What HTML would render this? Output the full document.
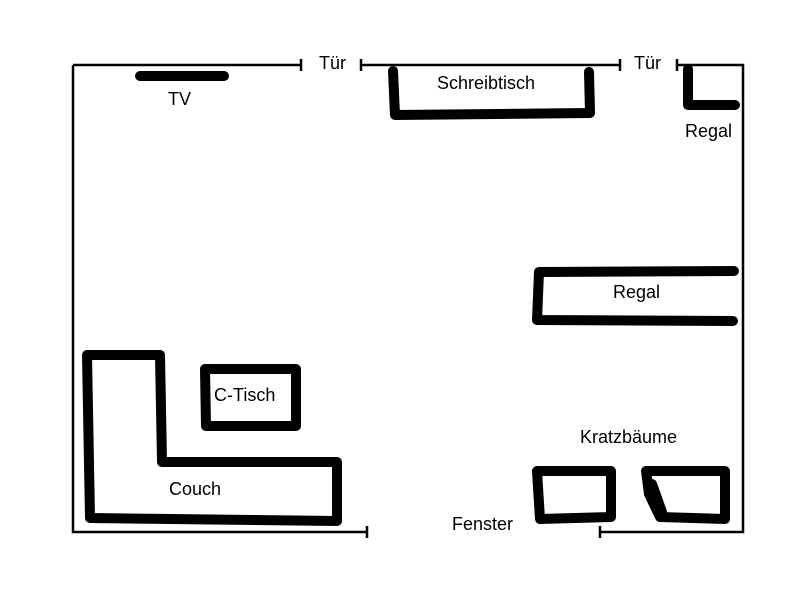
<!DOCTYPE html>
<html><head><meta charset="utf-8"><style>
html,body{margin:0;padding:0;background:#fff;}
svg{display:block;}
text{font-family:"Liberation Sans",sans-serif;font-size:18px;fill:#000;}
</style></head><body>
<svg width="800" height="600" viewBox="0 0 800 600" xmlns="http://www.w3.org/2000/svg">
<g stroke="#000" stroke-width="2.5" fill="none">
<path d="M73,65 H301 M301,59 V71"/>
<path d="M361,59 V71 M361,65 H620 M620,59 V71"/>
<path d="M677,59 V71 M677,65 H743 V532 H600 M600,526 V538"/>
<path d="M73,65 V532 H367 M367,526 V538"/>
</g>
<g stroke="#000" stroke-width="10" fill="none" stroke-linecap="round" stroke-linejoin="round">
<path d="M140,76 H224"/>
<path d="M393,71 L395,115 L590,113 L589,72"/>
<path d="M688,69 V105 H735"/>
<path d="M734,271 L539,272 L537,320 L733,321"/>
<path d="M205,369 H296 V426 H206 Z"/>
<path d="M87,355 H160 L162,462 H337 V521 L90,518 Z"/>
<path d="M537,471 H611 V517 L540,519 Z"/>
<path d="M646,471 H725 V519 L660,517 L649,494 Z M652,484 L662,512"/>
</g>
<text x="319" y="69">Tür</text>
<text x="634" y="69">Tür</text>
<text x="437" y="89">Schreibtisch</text>
<text x="168" y="105">TV</text>
<text x="685" y="137">Regal</text>
<text x="613" y="298">Regal</text>
<text x="214" y="401">C-Tisch</text>
<text x="580" y="443">Kratzbäume</text>
<text x="169" y="495">Couch</text>
<text x="452" y="530">Fenster</text>
</svg>
</body></html>
